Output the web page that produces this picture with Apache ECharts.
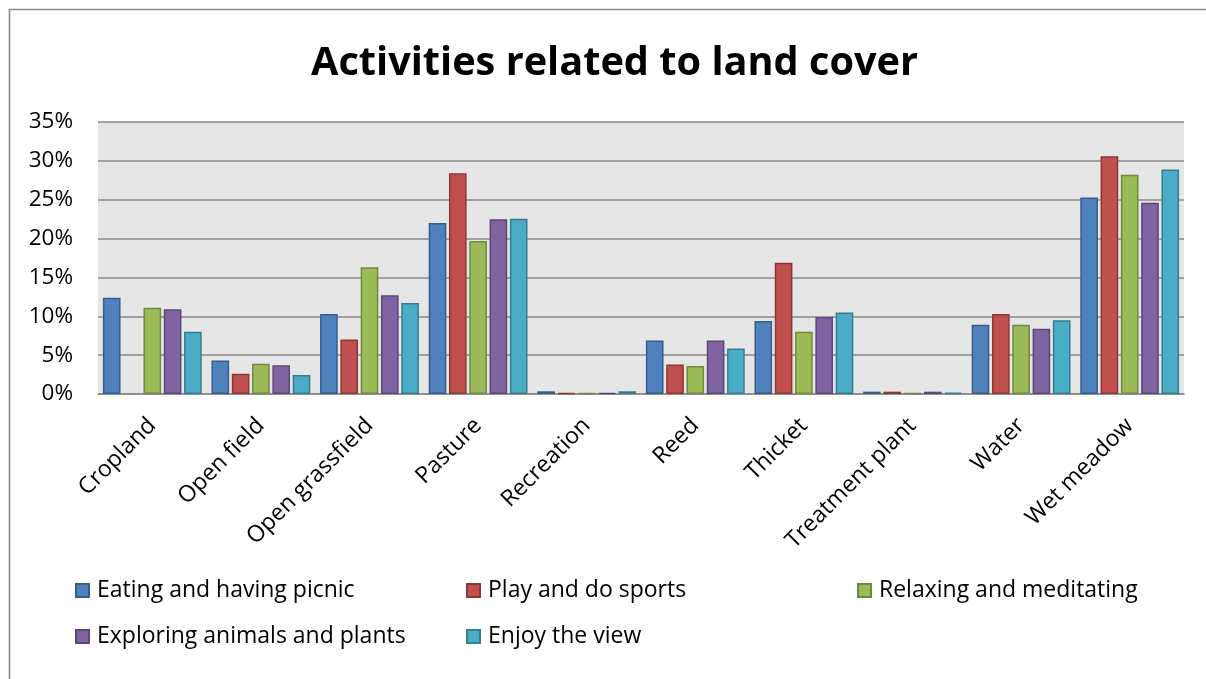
<!DOCTYPE html>
<html>
<head>
<meta charset="utf-8">
<script src="https://cdn.jsdelivr.net/npm/echarts@6/dist/echarts.min.js"></script>
<style>
html,body{margin:0;padding:0;background:#fff;}
#chart{width:1206px;height:679px;}
</style>
</head>
<body>
<div id="chart"></div>
<script>
const categories = ["Cropland","Open field","Open grassfield","Pasture","Recreation","Reed","Thicket","Treatment plant","Water","Wet meadow"];
const seriesNames = ["Eating and having picnic","Play and do sports","Relaxing and meditating","Exploring animals and plants","Enjoy the view"];
const eating    = [12.4, 4.3, 10.3, 22.0, 0.35, 6.9, 9.4, 0.3, 8.9, 25.3];
const sports    = [0,    2.6, 7.0, 28.4, 0.13, 3.8, 16.9, 0.3, 10.3, 30.6];
const relaxing  = [11.1, 3.9, 16.3, 19.7, 0.13, 3.6, 8.0, 0.13, 8.9, 28.2];
const exploring = [10.9, 3.7, 12.7, 22.5, 0.13, 6.9, 9.9, 0.3, 8.4, 24.6];
const view      = [8.0, 2.45, 11.7, 22.55, 0.35, 5.85, 10.5, 0.17, 9.5, 28.9];
const yTicks = [0,5,10,15,20,25,30,35];

const fills   = ["#4f81bd","#c0504d","#9bbb59","#8064a2","#4bacc6"];
const borders = ["#385d8a","#8c3836","#71893f","#5c4776","#357d91"];
const values  = [eating, sports, relaxing, exploring, view];
const FONT = "Open Sans";

const chart = echarts.init(document.getElementById('chart'), null, {renderer:'canvas'});
const legendPos = [[75,579],[466,579],[857,579],[75,625],[466,625]];

const option = {
  backgroundColor: '#ffffff',
  animation: false,
  title: {
    text: 'Activities related to land cover',
    left: 306, top: 39,
    textStyle: {fontFamily: FONT, fontWeight: 'bold', fontSize: 39.7, color: '#000'}
  },
  graphic: [{
    type: 'rect', silent: true, z: -10,
    shape: {x: 9.5, y: 9.5, width: 1210, height: 700},
    style: {fill: 'none', stroke: '#8c8c8c', lineWidth: 1.6}
  }],
  legend: seriesNames.map((n, i) => ({
    data: [n],
    left: legendPos[i][0], top: legendPos[i][1], padding: 0,
    icon: 'rect', itemWidth: 13, itemHeight: 13, itemGap: 8,
    textStyle: {fontFamily: FONT, fontSize: 23, color: '#000', padding: [0,0,0,3]},
    selectedMode: false
  })),
  grid: {left: 98, right: 22, top: 122, bottom: 285, containLabel: false,
         show: true, backgroundColor: '#e6e6e6', borderWidth: 0},
  xAxis: {
    type: 'category', data: categories,
    axisLine: {show: true, lineStyle: {color: '#8a8a8a', width: 1.5}},
    axisTick: {show: false},
    axisLabel: {rotate: 45, interval: 0, margin: 28, fontFamily: FONT, fontSize: 23, color: '#000'}
  },
  yAxis: {
    type: 'value', min: 0, max: 35, interval: 5,
    axisLine: {show: false}, axisTick: {show: false},
    axisLabel: {formatter: v => yTicks.includes(v) ? v + '%' : '', margin: 25, fontFamily: FONT, fontSize: 22.5, color: '#000'},
    splitLine: {show: true, lineStyle: {color: '#8a8a8a', width: 1.5}}
  },
  series: seriesNames.map((n, i) => ({
    name: n, type: 'bar',
    data: values[i].map(v => v === 0 ? {value: v, itemStyle: {borderWidth: 0}} : v),
    barGap: '15%', barCategoryGap: '9%',
    itemStyle: {color: fills[i], borderColor: borders[i], borderWidth: 1.5}
  }))
};
chart.setOption(option);
</script>
</body>
</html>
